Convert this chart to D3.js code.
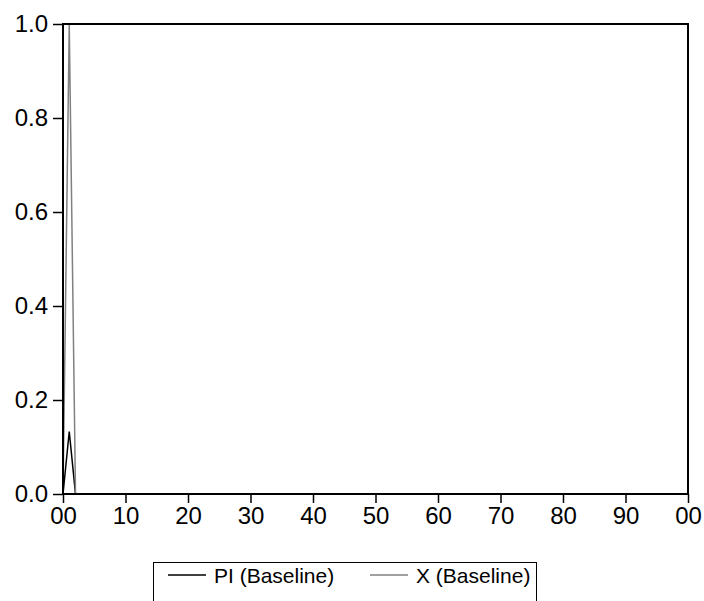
<!DOCTYPE html>
<html>
<head>
<meta charset="utf-8">
<script src="https://cdn.jsdelivr.net/npm/d3@7"></script>
<style>
  html, body { margin: 0; padding: 0; background: #fff; }
  svg { display: block; }
  text { font-family: "Liberation Sans", Arial, sans-serif; fill: #000; }
</style>
</head>
<body>
<div id="chart"></div>
<script>
// ---- data ----
const periods = d3.range(0, 100);
const piValues = [
  0, 0.133, 0, 0, 0, 0, 0, 0, 0, 0,
  0, 0, 0, 0, 0, 0, 0, 0, 0, 0,
  0, 0, 0, 0, 0, 0, 0, 0, 0, 0,
  0, 0, 0, 0, 0, 0, 0, 0, 0, 0,
  0, 0, 0, 0, 0, 0, 0, 0, 0, 0,
  0, 0, 0, 0, 0, 0, 0, 0, 0, 0,
  0, 0, 0, 0, 0, 0, 0, 0, 0, 0,
  0, 0, 0, 0, 0, 0, 0, 0, 0, 0,
  0, 0, 0, 0, 0, 0, 0, 0, 0, 0,
  0, 0, 0, 0, 0, 0, 0, 0, 0, 0
];
const xValues = [
  0, 1.0, 0, 0, 0, 0, 0, 0, 0, 0,
  0, 0, 0, 0, 0, 0, 0, 0, 0, 0,
  0, 0, 0, 0, 0, 0, 0, 0, 0, 0,
  0, 0, 0, 0, 0, 0, 0, 0, 0, 0,
  0, 0, 0, 0, 0, 0, 0, 0, 0, 0,
  0, 0, 0, 0, 0, 0, 0, 0, 0, 0,
  0, 0, 0, 0, 0, 0, 0, 0, 0, 0,
  0, 0, 0, 0, 0, 0, 0, 0, 0, 0,
  0, 0, 0, 0, 0, 0, 0, 0, 0, 0,
  0, 0, 0, 0, 0, 0, 0, 0, 0, 0
];
const xTickValues = [0, 10, 20, 30, 40, 50, 60, 70, 80, 90, 100];
const xTickLabels = ["00", "10", "20", "30", "40", "50", "60", "70", "80", "90", "00"];
const yTickValues = [0.0, 0.2, 0.4, 0.6, 0.8, 1.0];
const seriesNames = ["PI (Baseline)", "X (Baseline)"];
const seriesColors = ["#000000", "#808080"];

// ---- layout ----
const W = 704, H = 601;
const plotL = 63, plotR = 688, plotT = 24, plotB = 494;

const svg = d3.select("#chart").append("svg")
  .attr("width", W).attr("height", H);

const x = d3.scaleLinear().domain([0, 100]).range([plotL, plotR]);
const y = d3.scaleLinear().domain([0, 1]).range([plotB, plotT]);

// series lines
const series = [piValues, xValues];
const line = d3.line().x((d, i) => x(periods[i])).y(d => y(d));
series.forEach((vals, k) => {
  svg.append("path")
    .datum(vals)
    .attr("fill", "none")
    .attr("stroke", seriesColors[k])
    .attr("stroke-width", 1.5)
    .attr("stroke-linejoin", "miter")
    .attr("d", line);
});

// frame
svg.append("rect")
  .attr("x", plotL).attr("y", plotT)
  .attr("width", plotR - plotL).attr("height", plotB - plotT)
  .attr("fill", "none").attr("stroke", "#000").attr("stroke-width", 2);

// axes
const xAxis = d3.axisBottom(x)
  .tickValues(xTickValues)
  .tickFormat((d, i) => xTickLabels[i])
  .tickSizeInner(9).tickSizeOuter(0).tickPadding(4);
const gx = svg.append("g").attr("transform", `translate(0,${plotB})`).call(xAxis);
gx.select(".domain").remove();
gx.selectAll("line").attr("stroke", "#000").attr("stroke-width", 1.5);
gx.selectAll("text").attr("font-size", 24).attr("font-family", "Liberation Sans, Arial, sans-serif").attr("fill", "#000");

const yAxis = d3.axisLeft(y)
  .tickValues(yTickValues)
  .tickFormat(d3.format(".1f"))
  .tickSizeInner(10).tickSizeOuter(0).tickPadding(5);
const gy = svg.append("g").attr("transform", `translate(${plotL},0)`).call(yAxis);
gy.select(".domain").remove();
gy.selectAll("line").attr("stroke", "#000").attr("stroke-width", 1.5);
gy.selectAll("text").attr("font-size", 24).attr("font-family", "Liberation Sans, Arial, sans-serif").attr("fill", "#000");

// legend
const lg = svg.append("g");
lg.append("rect")
  .attr("x", 153.5).attr("y", 562.5).attr("width", 383).attr("height", 60)
  .attr("fill", "#fff").attr("stroke", "#000").attr("stroke-width", 1);
const legendItems = [
  { lx: 168, tx: 214 },
  { lx: 370, tx: 416 }
];
seriesNames.forEach((name, k) => {
  lg.append("line")
    .attr("x1", legendItems[k].lx).attr("x2", legendItems[k].lx + 38)
    .attr("y1", 575).attr("y2", 575)
    .attr("stroke", seriesColors[k]).attr("stroke-width", 1.5);
  lg.append("text")
    .attr("x", legendItems[k].tx).attr("y", 583)
    .attr("font-size", 21)
    .text(name);
});
</script>
</body>
</html>
